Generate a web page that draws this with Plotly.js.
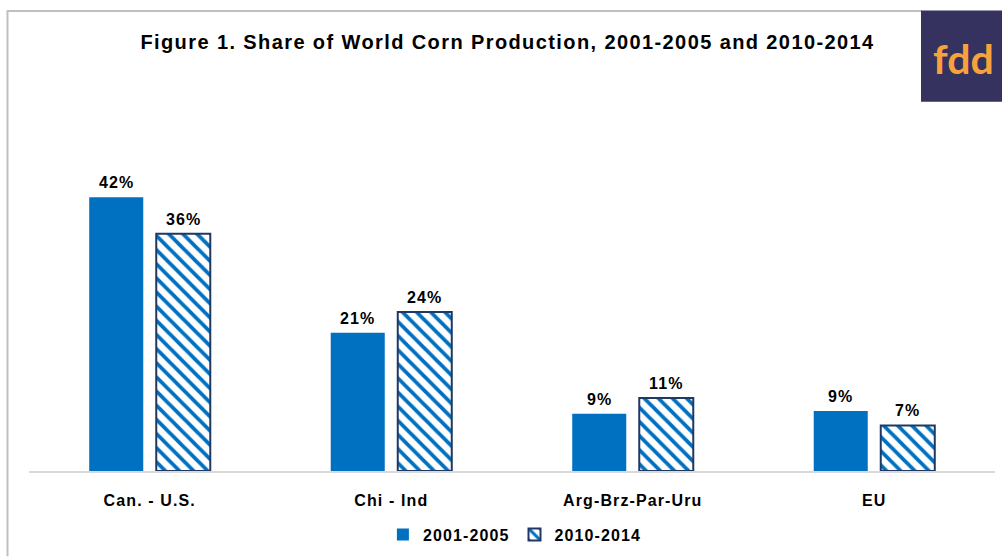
<!DOCTYPE html>
<html>
<head>
<meta charset="utf-8">
<script src="https://cdn.plot.ly/plotly-3.0.1.min.js"></script>
<style>
html,body{margin:0;padding:0;background:#fff;}
#chart{width:1002px;height:558px;}
text{letter-spacing:0.07em;}
</style>
</head>
<body>
<div id="chart"></div>
<script>
const categories = ["Can. - U.S.", "Chi - Ind", "Arg-Brz-Par-Uru", "EU"];
const series1Name = "2001-2005";
const series2Name = "2010-2014";
const share2001_2005 = [42.0, 21.2, 8.8, 9.2];
const share2010_2014 = [36.4, 24.4, 11.2, 7.0];

const F = "Liberation Sans, Arial, sans-serif";
const BLUE = "#0070c0";
const NAVY = "#1f3864";

const traces = [
  {
    type: "bar", name: series1Name, x: categories, y: share2001_2005,
    marker: {color: BLUE},
    hoverinfo: "skip"
  },
  {
    type: "bar", name: series2Name, x: categories, y: share2010_2014,
    marker: {
      color: "#ffffff",
      line: {color: NAVY, width: 2},
      pattern: {shape: "\\", fgcolor: BLUE, bgcolor: "#ffffff", fgopacity: 1, size: 10, solidity: 0.38, fillmode: "replace"}
    },
    hoverinfo: "skip"
  }
];

// plot area: x 29..995, y 80..474
const L = 29, R = 995, T = 80, B = 474, W = 1002, H = 558;
const px = v => (v - L) / (R - L);
const py = v => (B - v) / (B - T);

const SLOT = 33.5; // half of a bar slot, px
const labelFont = {family: F, size: 16, color: "#000", weight: "bold"};
const valueLabels = [];
[share2001_2005, share2010_2014].forEach((vals, s) => {
  vals.forEach((v, i) => {
    valueLabels.push({
      xref: "x", yref: "y", x: categories[i], y: v,
      xshift: s === 0 ? -SLOT : SLOT, yshift: 4,
      xanchor: "center", yanchor: "bottom",
      text: Math.round(v) + "%", showarrow: false, font: labelFont
    });
  });
});

const layout = {
  width: W, height: H,
  paper_bgcolor: "#fff", plot_bgcolor: "#fff",
  margin: {l: L, r: W - R, t: T, b: H - B, pad: 0},
  font: {family: F, color: "#000"},
  title: {
    text: "Figure 1. Share of World Corn Production, 2001-2005 and 2010-2014",
    font: {family: F, size: 20, color: "#000", weight: "bold"},
    xref: "container", yref: "container",
    x: 0.5065, xanchor: "center", y: 1 - 42 / H, yanchor: "middle"
  },
  barmode: "group", bargap: 0.445, bargroupgap: 0.194,
  xaxis: {
    showline: true, linecolor: "#d9d9d9", linewidth: 2,
    showgrid: false, zeroline: false, ticks: "",
    tickfont: {family: F, size: 16, color: "#000", weight: "bold"},
    ticklabelstandoff: 14
  },
  yaxis: {
    range: [0, 60], visible: false, showgrid: false, zeroline: false
  },
  showlegend: true,
  legend: {
    orientation: "h", x: 0.503, xanchor: "center", y: py(538), yanchor: "middle",
    font: {family: F, size: 16, color: "#000", weight: "bold"},
    itemwidth: 30, traceorder: "normal"
  },
  shapes: [
    {type: "line", xref: "paper", yref: "paper", x0: px(7.5), x1: px(7.5), y0: py(10), y1: py(560),
     line: {color: "#bfbfbf", width: 2}},
    {type: "line", xref: "paper", yref: "paper", x0: px(7), x1: px(922), y0: py(10.5), y1: py(10.5),
     line: {color: "#bfbfbf", width: 2}},
    {type: "rect", xref: "paper", yref: "paper", x0: px(921), x1: px(1010), y0: py(10), y1: py(102),
     fillcolor: "#35325f", line: {width: 0}}
  ],
  annotations: valueLabels.concat([
    {xref: "paper", yref: "paper", x: px(931), y: py(58), xanchor: "left", yanchor: "middle",
     text: '<span style="letter-spacing:0">fdd</span>', showarrow: false,
     font: {family: "Lato, Noto Sans, sans-serif", size: 41, color: "#f7a23c", weight: "bold"}}
  ])
};

Plotly.newPlot("chart", traces, layout, {staticPlot: true, displayModeBar: false});
</script>
</body>
</html>
